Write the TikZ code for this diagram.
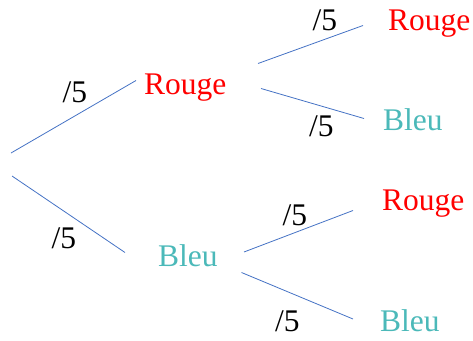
\documentclass[tikz,border=0pt]{standalone}
\usepackage{fontspec}
\setmainfont{Liberation Serif}
\definecolor{rouge}{RGB}{255,0,0}
\definecolor{bleu}{RGB}{75,185,185}
\definecolor{branche}{RGB}{68,114,196}
\begin{document}
\begin{tikzpicture}[x=1pt,y=-1pt,
  lbl/.style={inner sep=0pt,anchor=base west,font=\fontsize{31.5}{38}\selectfont},
  rg/.style={lbl,text=rouge},
  bl/.style={lbl,text=bleu},
  prob/.style={lbl,text=black},
  branch/.style={draw=branche,line width=0.8pt}]
\useasboundingbox (0,0) rectangle (473,340);
% outcome labels
\node[rg] (r1) at (144,94) {Rouge};
\node[bl] (b1) at (158,266) {Bleu};
\node[rg] (rr) at (388,30) {Rouge};
\node[bl] (rb) at (383,130) {Bleu};
\node[rg] (br) at (382,210.5) {Rouge};
\node[bl] (bb) at (380,331.5) {Bleu};
% branch end points
\coordinate (o1) at (11,153);
\coordinate (o2) at (12,176);
\coordinate (e1) at (136,80.5);
\coordinate (e2) at (125,252.5);
\coordinate (r1a) at (258,63.5);
\coordinate (r1b) at (363,25.5);
\coordinate (r2a) at (261,88.5);
\coordinate (r2b) at (364,118.5);
\coordinate (b1a) at (244,252);
\coordinate (b1b) at (353,210.5);
\coordinate (b2a) at (241.5,272.5);
\coordinate (b2b) at (353,319);
% branches
\draw[branch] (o1) -- (e1);
\draw[branch] (o2) -- (e2);
\draw[branch] (r1a) -- (r1b);
\draw[branch] (r2a) -- (r2b);
\draw[branch] (b1a) -- (b1b);
\draw[branch] (b2a) -- (b2b);
% probabilities
\node[prob] (p1) at (62.5,102) {/5};
\node[prob] (p2) at (51.5,248) {/5};
\node[prob] (p3) at (312.5,30) {/5};
\node[prob] (p4) at (309,136) {/5};
\node[prob] (p5) at (282.5,225) {/5};
\node[prob] (p6) at (275,331) {/5};
\end{tikzpicture}
\end{document}
